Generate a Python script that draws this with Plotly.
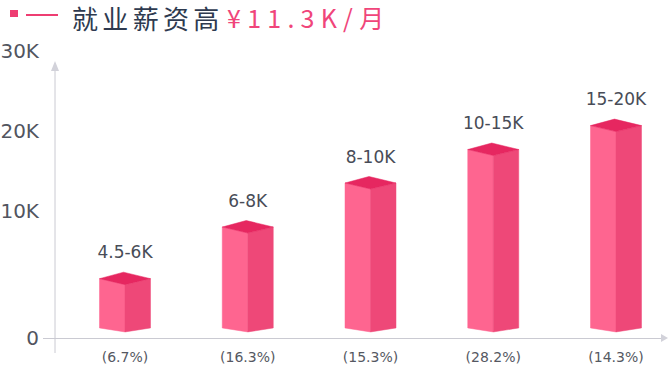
import plotly.graph_objects as go

# ---------------- data ----------------
categories = ["4.5-6K", "6-8K", "8-10K", "10-15K", "15-20K"]
shares = ["(6.7%)", "(16.3%)", "(15.3%)", "(28.2%)", "(14.3%)"]
bar_values = [6.2, 11.6, 16.2, 19.7, 22.2]      # bar heights (K, axis units)
bar_base = 1.05                                  # bars float slightly above the axis
tick_positions = [0, 13.3, 21.6, 30]
tick_labels = ["0", "10K", "20K", "30K"]
title_main = "就业薪资高"
title_value = "¥11.3K/月"

# ---------------- layout geometry ----------------
W, H = 670, 377
ML, MR, MT, MB = 43, 8, 0, 39
PW, PH = W - ML - MR, H - MT - MB
PX_PER_X = 122.75
PX_PER_Y = 9.567
X0 = -(125 - ML) / PX_PER_X
X1 = X0 + PW / PX_PER_X
Y0 = 0
Y1 = PH / PX_PER_Y


def dx(px):
    return px / PX_PER_X


def dy(px):
    return px / PX_PER_Y


def paper_x(px):
    return (px - ML) / PW


def paper_y(py):
    return (H - MB - py) / PH


LEFT_C = "#fe6590"
RIGHT_C = "#ee4878"
TOP_C = "#e62760"

hw = dx(25.5)
d_top = dy(6)
d_apex = dy(6.5)
d_bot = dy(4)

fig = go.Figure()

for i, v in enumerate(bar_values):
    cx = i
    b = bar_base
    left = dict(x=[cx - hw, cx - hw, cx, cx, cx - hw],
                y=[b, v, v - d_top, b - d_bot, b])
    right = dict(x=[cx, cx, cx + hw, cx + hw, cx],
                 y=[b - d_bot, v - d_top, v, b, b - d_bot])
    top = dict(x=[cx - hw, cx - dx(1.5), cx + hw, cx, cx - hw],
               y=[v, v + d_apex, v, v - d_top, v])
    for poly, col in ((left, LEFT_C), (right, RIGHT_C), (top, TOP_C)):
        fig.add_trace(go.Scatter(x=poly["x"], y=poly["y"], mode="lines",
                                 fill="toself", fillcolor=col,
                                 line=dict(width=0.5, color=col),
                                 hoverinfo="skip", showlegend=False))

# labels above bars
fig.add_trace(go.Scatter(
    x=list(range(len(categories))),
    y=[v + d_apex + dy(18) for v in bar_values],
    mode="text", text=categories, textposition="middle center",
    textfont=dict(family="DejaVu Sans", size=17, color="#484c57"),
    hoverinfo="skip", showlegend=False))

AX_C = "#cacad2"

shapes = [
    # y-axis line
    dict(type="line", xref="paper", yref="paper",
         x0=paper_x(55), x1=paper_x(55), y0=paper_y(71), y1=paper_y(353),
         line=dict(color=AX_C, width=1)),
    # y-axis arrow
    dict(type="path", xref="paper", yref="paper",
         path=f"M {paper_x(55)} {paper_y(61)} L {paper_x(51)} {paper_y(71)} "
              f"L {paper_x(59)} {paper_y(71)} Z",
         fillcolor="#d2d2da", line=dict(width=0)),
    # x-axis arrow
    dict(type="path", xref="paper", yref="paper",
         path=f"M {paper_x(668)} {paper_y(338)} L {paper_x(661)} {paper_y(334)} "
              f"L {paper_x(661)} {paper_y(342)} Z",
         fillcolor="#d2d2da", line=dict(width=0)),
    # title marker square
    dict(type="rect", xref="paper", yref="paper",
         x0=paper_x(10), x1=paper_x(18), y0=paper_y(17), y1=paper_y(10),
         fillcolor="#ee3d72", line=dict(width=0)),
    # title marker line
    dict(type="line", xref="paper", yref="paper",
         x0=paper_x(26), x1=paper_x(58), y0=paper_y(15), y1=paper_y(15),
         line=dict(color="#ee3d72", width=2)),
]

spaced_main = "\u2006".join(title_main)
spaced_value = "\u2005".join(title_value)

annotations = [
    dict(xref="paper", yref="paper", x=paper_x(70), y=paper_y(17.5),
         xanchor="left", yanchor="middle", showarrow=False, text=spaced_main,
         font=dict(family="Noto Sans CJK SC", size=26, color="#2e3a4f")),
    dict(xref="paper", yref="paper", x=paper_x(225), y=paper_y(17.5),
         xanchor="left", yanchor="middle", showarrow=False, text=spaced_value,
         font=dict(family="Noto Sans CJK SC", size=25, color="#f0457a")),
]

fig.update_layout(
    width=W, height=H,
    margin=dict(l=ML, r=MR, t=MT, b=MB, autoexpand=False),
    paper_bgcolor="white", plot_bgcolor="white",
    shapes=shapes, annotations=annotations,
    xaxis=dict(range=[X0, X1], tickvals=list(range(len(shares))), ticktext=shares,
               showgrid=False, zeroline=False, showline=True, linecolor=AX_C,
               linewidth=1, ticks="", ticklabelstandoff=6, automargin=False,
               tickfont=dict(family="DejaVu Sans", size=14, color="#555862"),
               fixedrange=True),
    yaxis=dict(range=[Y0, Y1], tickvals=tick_positions, ticktext=tick_labels,
               showgrid=False, zeroline=False, showline=False, ticks="",
               ticklabelstandoff=3, automargin=False,
               tickfont=dict(family="DejaVu Sans", size=20, color="#52555f"),
               fixedrange=True),
)

fig.write_html("out.html", config={"displayModeBar": False},
               post_script="document.body.style.margin='0';")
